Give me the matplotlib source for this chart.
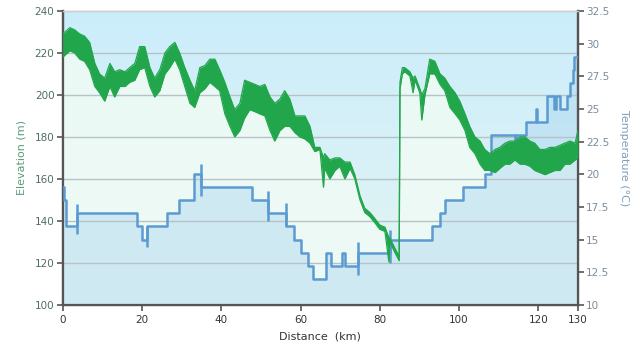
import matplotlib
matplotlib.use("Agg")
import matplotlib.pyplot as plt
import numpy as np
from matplotlib.colors import LinearSegmentedColormap

plt.rcParams.update({
    "font.family": "DejaVu Sans",
    "font.size": 7.5,
})

# elevation profile, read as a lower/upper envelope of the noisy GPS trace
elev_km = [0, 1.8, 3.0, 4.3, 5.5, 6.8, 8.1, 9.3, 10.6, 11.9,
           13.1, 14.4, 15.7, 16.9, 18.2, 19.4, 20.7, 22.0, 23.2, 24.5,
           25.8, 27.0, 28.3, 29.5, 30.8, 32.1, 33.3, 34.6, 35.9, 37.1,
           38.4, 39.6, 40.9, 42.2, 43.4, 44.7, 45.9, 47.2, 48.5, 49.7,
           51.0, 52.3, 53.5, 54.8, 56.0, 57.3, 58.6, 59.8, 61.1, 62.4,
           63.6, 64.9, 65.8, 66.1, 67.4, 68.7, 69.9, 71.2, 72.5, 73.7,
           75.0, 76.2, 77.5, 78.8, 80.0, 81.3, 82.3, 82.5, 83.8, 84.9,
           85.1, 85.7, 86.3, 87.6, 88.4, 88.9, 90.1, 90.6, 91.4, 92.6,
           93.9, 95.2, 96.4, 97.7, 99.0, 100.2, 101.5, 102.7, 104.0, 105.3,
           106.5, 107.8, 109.1, 110.3, 111.6, 112.8, 114.1, 115.4, 116.6, 117.9,
           119.1, 120.4, 121.7, 122.9, 124.2, 125.5, 126.7, 128.0, 129.3, 130.0]
elev_lo = [218, 221, 220, 217, 216, 212, 204, 201, 197, 204,
           199, 204, 204, 206, 207, 212, 213, 204, 199, 202,
           210, 213, 217, 212, 204, 196, 194, 201, 203, 206,
           204, 202, 191, 185, 180, 183, 189, 193, 192, 191,
           190, 183, 178, 183, 185, 185, 182, 180, 179, 177,
           173, 174, 156, 165, 160, 164, 166, 160, 165, 160,
           150, 144, 142, 139, 136, 135, 120.5, 130, 125, 121,
           203, 210, 211, 209, 201, 207, 201, 188, 200, 210,
           210, 205, 202, 194, 191, 188, 183, 175, 172, 167,
           164, 164, 163, 165, 167, 167, 169, 167, 167, 166,
           164, 163, 162, 163, 164, 164, 167, 167, 169, 170]
elev_hi = [229, 232, 231, 229, 228, 225, 215, 210, 208, 215,
           211, 212, 211, 213, 215, 223, 223, 213, 208, 212,
           220, 223, 225, 220, 213, 207, 202, 213, 214, 217,
           217, 212, 206, 199, 193, 196, 207, 206, 205, 204,
           205, 199, 196, 198, 202, 198, 190, 190, 190, 185,
           175, 175, 170, 172, 169, 170, 170, 168, 168, 162,
           152, 146, 144, 141, 138, 137, 132, 132, 127, 123,
           206, 213, 213, 211, 208, 209, 203, 200, 203, 217,
           216, 210, 208, 204, 201, 197, 191, 185, 180, 178,
           174, 172, 174, 175, 177, 178, 178, 180, 180, 178,
           177, 174, 174, 175, 175, 176, 177, 178, 177, 183]

# temperature: step function (km where the value starts, value in C)
temp_km = [0, 0.3, 0.8, 3.6, 18.8, 20.1, 21.3, 26.2, 29.3, 33.1,
           35.0, 47.8, 51.8, 56.3, 58.4, 60.0, 61.8, 63.2, 66.4, 67.7,
           70.4, 71.2, 74.5, 82.5, 93.1, 95.2, 96.4, 101.0, 106.5, 108.0,
           114.2, 114.5, 116.9, 119.3, 119.8, 122.1, 124.0, 124.4, 125.6, 127.3,
           128.0, 128.7, 129.0, 130.0]
temp_c = [19, 18, 16, 17, 16, 15, 16, 17, 18, 20,
          19, 18, 17, 16, 15, 14, 13, 12, 14, 13,
          14, 13, 14, 15, 16, 17, 18, 19, 20, 23,
          22, 23, 24, 25, 24, 26, 25, 26, 25, 26,
          27, 28, 29, 29]
# short sensor glitches drawn as vertical ticks
spike_km = [3.6, 21.3, 35.0, 51.8, 56.3, 74.5, 82.5]
spike_lo = [15.4, 14.4, 18.3, 16.4, 16.0, 12.3, 13.2]
spike_hi = [17.7, 16.0, 20.8, 18.7, 17.8, 14.8, 15.7]

x_ticks = [0, 20, 40, 60, 80, 100, 120, 130]
elev_ticks = [100, 120, 140, 160, 180, 200, 220, 240]
temp_ticks = [10, 12.5, 15, 17.5, 20, 22.5, 25, 27.5, 30, 32.5]
temp_ticklabels = ["10", "12.5", "15", "17.5", "20", "22.5", "25", "27.5", "30", "32.5"]

GREEN = "#22a64c"
BLUE = "#5b9bd2"

fig = plt.figure(figsize=(6.4, 3.52), dpi=100)
ax = fig.add_axes([0.098, 0.134, 0.805, 0.835])
ax2 = ax.twinx()

# sky gradient background
bg = LinearSegmentedColormap.from_list("bg", ["#e4f6f2", "#d8f1f7", "#cbedfb"])
ax.imshow(np.linspace(0, 1, 256).reshape(-1, 1), cmap=bg, origin="lower",
          extent=[0, 1, 0, 1], transform=ax.transAxes, aspect="auto", zorder=0)

ax.set_xlim(0, 130)
ax.set_ylim(100, 240)
ax2.set_ylim(10, 32.5)

# everything drawn in ax2 so the layers interleave; elevation uses ax's data transform
ax2.fill_between(elev_km, elev_hi, 100, color="#f0fbf5", alpha=0.85,
                 lw=0, transform=ax.transData, zorder=1)
ax2.fill_between(temp_km, temp_c, 10, step="post", color="#a6d3f0", alpha=0.42,
                 lw=0, zorder=2)
ax2.hlines(elev_ticks[1:-1], 0, 1, transform=ax.get_yaxis_transform(),
           color="#b5c2c6", lw=1.0, zorder=2.5)
ax2.plot(temp_km, temp_c, drawstyle="steps-post", color=BLUE, lw=1.8, zorder=3)
ax2.vlines(spike_km, spike_lo, spike_hi, color=BLUE, lw=1.8, zorder=3)
ax2.fill_between(elev_km, elev_lo, elev_hi, color=GREEN, lw=0,
                 transform=ax.transData, zorder=4)
ax2.plot(elev_km, elev_hi, color=GREEN, lw=0.9, transform=ax.transData, zorder=4)
ax2.plot(elev_km, elev_lo, color=GREEN, lw=0.9, transform=ax.transData, zorder=4)

# axes styling
for a in (ax, ax2):
    a.spines["top"].set_color("#c8d0d4")
    a.spines["top"].set_linewidth(1.0)
    for side in ("left", "right", "bottom"):
        a.spines[side].set_color("#555555")
        a.spines[side].set_linewidth(1.6)

ax.set_xticks(x_ticks)
ax.set_yticks(elev_ticks)
ax.tick_params(axis="both", direction="out", length=4, width=1.2, color="#555555")
ax.tick_params(axis="y", labelcolor="#4f6e5c", pad=2)
ax.tick_params(axis="x", labelcolor="#333333", pad=3)
ax2.set_yticks(temp_ticks)
ax2.set_yticklabels(temp_ticklabels)
ax2.tick_params(axis="y", direction="out", length=4, width=1.2, color="#555555",
                labelcolor="#7a8c9c", pad=2)

ax.set_xlabel("Distance  (km)", color="#333333", fontsize=8, labelpad=5)
ax.set_ylabel("Elevation (m)", color="#5a9c78", fontsize=8, labelpad=6)
ax2.set_ylabel("Temperature (\u00b0C)", color="#7ea0b8", fontsize=8,
               rotation=270, labelpad=14)

fig.savefig("out.png", dpi=100)
